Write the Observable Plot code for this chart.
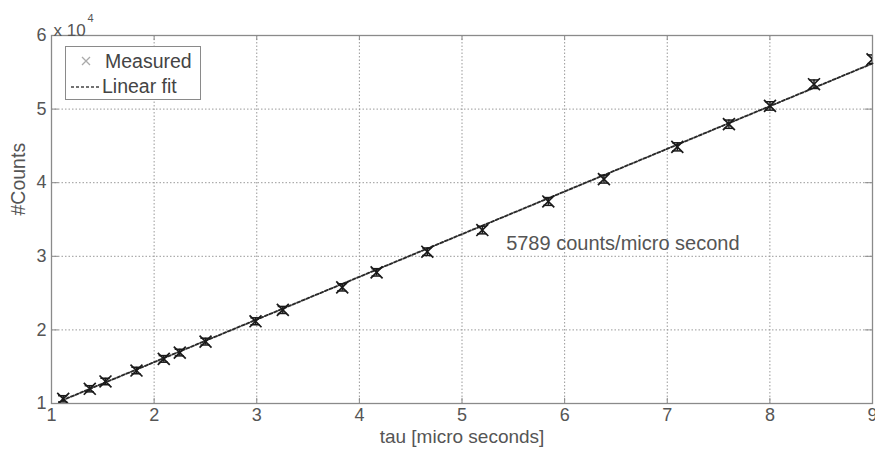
<!DOCTYPE html>
<html>
<head>
<meta charset="utf-8">
<script src="https://cdn.jsdelivr.net/npm/d3@7"></script>
<script src="https://cdn.jsdelivr.net/npm/@observablehq/plot@0.6"></script>
<style>
  body { margin: 0; background: #fff; font-family: "Liberation Sans", Arial, sans-serif; }
  #wrap { position: relative; width: 875px; height: 452px; }
  #legend { position: absolute; left: 65px; top: 46px; width: 136px; height: 54px; border: 1px solid #8a8a8a; background: #fff; box-sizing: border-box; font-size: 19.5px; color: #444; }
  #legend .row { position: absolute; left: 0; height: 24px; line-height: 24px; white-space: nowrap; }
</style>
</head>
<body>
<div id="wrap"></div>
<script>
// Measured points: tau [micro seconds], counts, error bar half-height (counts)
const tau = [1.114, 1.373, 1.526, 1.828, 2.094, 2.250, 2.501, 2.988, 3.254, 3.833, 4.168, 4.662, 5.198, 5.841, 6.383, 7.098, 7.601, 8.001, 8.430, 9.0];
const counts = [10640, 12000, 12990, 14480, 16060, 16920, 18410, 21170, 22710, 25780, 27820, 30620, 33570, 37450, 40490, 44870, 47950, 50430, 53380, 56770];
const errs = [420, 420, 440, 440, 450, 450, 460, 470, 480, 490, 500, 510, 520, 530, 540, 550, 560, 570, 580, 590];

// Linear fit endpoints (5789 counts/micro second)
const fitTau = [1.1, 9.0];
const fitCounts = [10400, 56200];

// Tick labels
const xTicks = [1, 2, 3, 4, 5, 6, 7, 8, 9];
const yTicks = [10000, 20000, 30000, 40000, 50000, 60000];

const annotation = "5789 counts/micro second";

const measured = tau.map((t, i) => ({t, c: counts[i], e: errs[i]}));
const fit = fitTau.map((t, i) => ({t, c: fitCounts[i]}));

const axisColor = "#8a8a8a";
const textColor = "#555";

const chart = Plot.plot({
  width: 875,
  height: 452,
  marginLeft: 51,
  marginRight: 3,
  marginTop: 35,
  marginBottom: 49,
  style: {fontFamily: "Liberation Sans, Arial, sans-serif", fontSize: "18px", color: textColor, background: "#fff"},
  x: {domain: [1, 9]},
  y: {domain: [10000, 60000]},
  marks: [
    Plot.gridX(xTicks, {stroke: "#999", strokeOpacity: 1, strokeDasharray: "1.5,2"}),
    Plot.gridY(yTicks, {stroke: "#999", strokeOpacity: 1, strokeDasharray: "1.5,2"}),
    // inward tick marks (bottom, top, left, right)
    Plot.ruleX(xTicks, {y1: 10000, y2: 10700, stroke: axisColor}),
    Plot.ruleX(xTicks, {y1: 59300, y2: 60000, stroke: axisColor}),
    Plot.ruleY(yTicks, {x1: 1, x2: 1.07, stroke: axisColor}),
    Plot.ruleY(yTicks, {x1: 8.93, x2: 9, stroke: axisColor}),
    Plot.frame({stroke: axisColor, strokeWidth: 1.3}),
    Plot.axisX(xTicks, {tickSize: 0, tickPadding: 5, label: null, fontSize: 18, fill: textColor}),
    Plot.axisY(yTicks, {tickSize: 0, tickPadding: 5, label: null, fontSize: 18, fill: textColor, tickFormat: d => String(d / 10000)}),
    Plot.text(["x 10"], {frameAnchor: "top-left", dx: 2, dy: -12, textAnchor: "start", fontSize: 17, fill: textColor}),
    Plot.text(["4"], {frameAnchor: "top-left", dx: 36, dy: -21, textAnchor: "start", fontSize: 11, fill: textColor}),
    Plot.text(["tau [micro seconds]"], {frameAnchor: "bottom", dy: 39, fontSize: 19, fill: textColor}),
    Plot.text(["#Counts"], {frameAnchor: "left", dx: -33, dy: -4, rotate: -90, fontSize: 19.5, fill: textColor}),
    // linear fit
    Plot.line(fit, {x: "t", y: "c", stroke: "#2a2a2a", strokeWidth: 1.9, strokeDasharray: "3,2"}),
    // error bars
    Plot.ruleX(measured, {x: "t", y1: d => d.c - d.e, y2: d => d.c + d.e, stroke: "#1a1a1a", strokeWidth: 1.5, clip: true}),
    Plot.ruleY(measured, {y: d => d.c - d.e, x1: d => d.t - 0.045, x2: d => d.t + 0.045, stroke: "#1a1a1a", strokeWidth: 1.5, clip: true}),
    Plot.ruleY(measured, {y: d => d.c + d.e, x1: d => d.t - 0.045, x2: d => d.t + 0.045, stroke: "#1a1a1a", strokeWidth: 1.5, clip: true}),
    Plot.dot(measured, {x: "t", y: "c", symbol: "times", r: 5.5, stroke: "#1a1a1a", strokeWidth: 1.7, clip: true}),
    Plot.text([annotation], {x: [5.43], y: [31700], textAnchor: "start", fontSize: 20, fill: textColor})
  ]
});

const wrap = document.getElementById("wrap");
wrap.appendChild(chart);

const legend = document.createElement("div");
legend.id = "legend";
legend.innerHTML =
  '<div class="row" style="top:2px;left:0;width:132px">' +
    '<svg width="40" height="24" style="position:absolute;left:0;top:0"><path d="M16,8 L24,16 M24,8 L16,16" stroke="#aaa" stroke-width="1.3"/></svg>' +
    '<span style="position:absolute;left:39px">Measured</span></div>' +
  '<div class="row" style="top:27px;left:0;width:132px">' +
    '<svg width="40" height="24" style="position:absolute;left:0;top:0"><line x1="5" y1="13" x2="35" y2="13" stroke="#444" stroke-width="1.4" stroke-dasharray="3,2"/></svg>' +
    '<span style="position:absolute;left:36px">Linear fit</span></div>';
wrap.appendChild(legend);
</script>
</body>
</html>
